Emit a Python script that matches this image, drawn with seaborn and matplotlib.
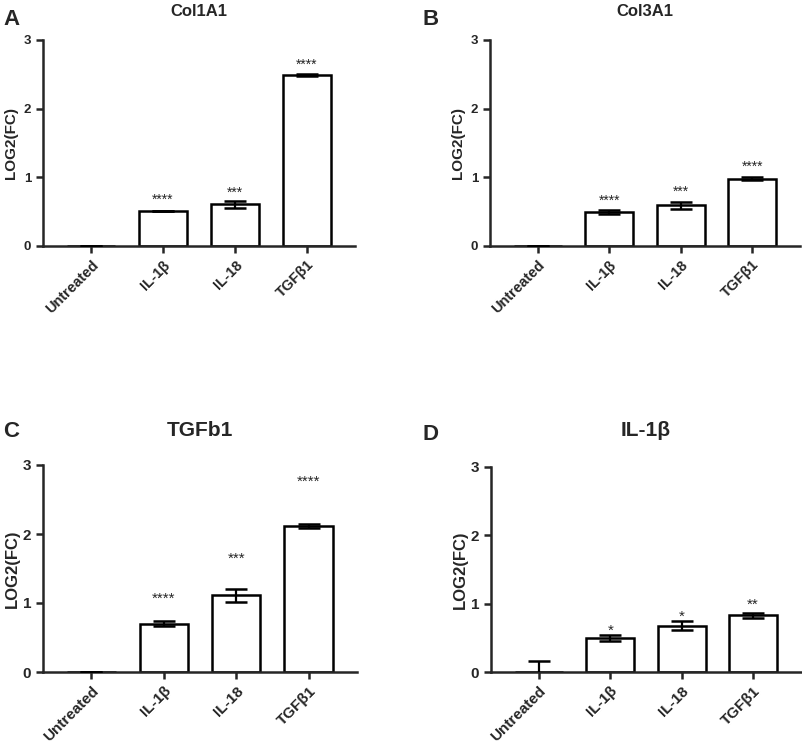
import matplotlib
matplotlib.use("Agg")
import matplotlib.pyplot as plt
import seaborn as sns
import pandas as pd

categories = ["Untreated", "IL-1β", "IL-18", "TGFβ1"]

# mean log2 fold change and SEM
col1a1_mean = [0.0, 0.51, 0.61, 2.49]
col1a1_sem = [0.0, 0.005, 0.05, 0.02]
col1a1_stars = ["", "****", "***", "****"]
col1a1_star_y = [0, 0.68, 0.77, 2.64]

col3a1_mean = [0.0, 0.49, 0.59, 0.98]
col3a1_sem = [0.0, 0.03, 0.05, 0.02]
col3a1_stars = ["", "****", "***", "****"]
col3a1_star_y = [0, 0.66, 0.79, 1.15]

tgfb1_mean = [0.0, 0.70, 1.11, 2.12]
tgfb1_sem = [0.0, 0.04, 0.10, 0.03]
tgfb1_stars = ["", "****", "***", "****"]
tgfb1_star_y = [0, 1.06, 1.64, 2.75]

il1b_mean = [0.0, 0.50, 0.68, 0.83]
il1b_sem = [0.16, 0.04, 0.06, 0.04]
il1b_stars = ["", "*", "*", "**"]
il1b_star_y = [0, 0.60, 0.81, 0.98]

sns.set_style("ticks")
plt.rcParams["font.family"] = ["Liberation Sans", "DejaVu Sans"]
plt.rcParams["font.weight"] = "bold"

W, H = 803, 744
fig = plt.figure(figsize=(W / 100, H / 100), dpi=100)


def box(x0, x1, ytop, ybot):
    return [x0 / W, 1 - ybot / H, (x1 - x0) / W, (ybot - ytop) / H]


panels = [
    dict(letter="A", title="Col1A1", mean=col1a1_mean, sem=col1a1_sem,
         stars=col1a1_stars, star_y=col1a1_star_y,
         rect=box(43, 355, 40, 246), small=True, lx=3, ly=25, pad=17),
    dict(letter="B", title="Col3A1", mean=col3a1_mean, sem=col3a1_sem,
         stars=col3a1_stars, star_y=col3a1_star_y,
         rect=box(490, 800, 40, 246), small=True, lx=423, ly=25, pad=17),
    dict(letter="C", title="TGFb1", mean=tgfb1_mean, sem=tgfb1_sem,
         stars=tgfb1_stars, star_y=tgfb1_star_y,
         rect=box(43, 357, 465, 672), small=False, lx=3, ly=437, pad=21),
    dict(letter="D", title="IL-1β", mean=il1b_mean, sem=il1b_sem,
         stars=il1b_stars, star_y=il1b_star_y,
         rect=box(491, 801, 467, 672), small=False, lx=423, ly=440, pad=22),
]

for p in panels:
    ax = fig.add_axes(p["rect"])
    df = pd.DataFrame({"group": categories, "value": p["mean"]})
    sns.barplot(data=df, x="group", y="value", ax=ax, color="white",
                edgecolor="black", linewidth=1.8, width=0.67, errorbar=None,
                saturation=1)
    ax.errorbar(range(len(categories)), p["mean"], yerr=p["sem"], fmt="none",
                ecolor="black", elinewidth=1.6, capsize=8, capthick=1.8,
                zorder=3)

    if p["small"]:
        tick_fs, lab_fs, title_fs, star_fs, xt_fs = 9.5, 11, 12, 10, 10.5
        labpad = 4
    else:
        tick_fs, lab_fs, title_fs, star_fs, xt_fs = 11, 12, 15, 11, 11
        labpad = 2

    for i, s in enumerate(p["stars"]):
        if s:
            ax.text(i, p["star_y"][i], s, ha="center", va="center",
                    fontsize=star_fs, fontweight="normal")

    ax.set_ylim(0, 3)
    ax.set_xlim(-0.67, 3.67)
    ax.set_yticks([0, 1, 2, 3])
    ax.set_xlabel("")
    ax.set_ylabel("LOG2(FC)", fontsize=lab_fs, fontweight="bold",
                  labelpad=labpad)
    ax.set_title(p["title"], fontsize=title_fs, fontweight="bold",
                 pad=p["pad"])
    ax.tick_params(axis="both", width=1.8, length=5, direction="out")
    ax.tick_params(axis="y", labelsize=tick_fs)
    ax.set_xticks(range(len(categories)))
    ax.set_xticklabels(categories, rotation=45, ha="right",
                       rotation_mode="anchor", fontsize=xt_fs,
                       fontweight="bold")
    for lab in ax.get_yticklabels():
        lab.set_fontweight("bold")
    sns.despine(ax=ax)
    for side in ["left", "bottom"]:
        ax.spines[side].set_linewidth(1.8)
    ax.set_facecolor("white")

    fig.text(p["lx"] / W, 1 - p["ly"] / H, p["letter"], fontsize=16,
             fontweight="bold", ha="left", va="baseline")

fig.savefig("out.png", dpi=100, facecolor="white")
